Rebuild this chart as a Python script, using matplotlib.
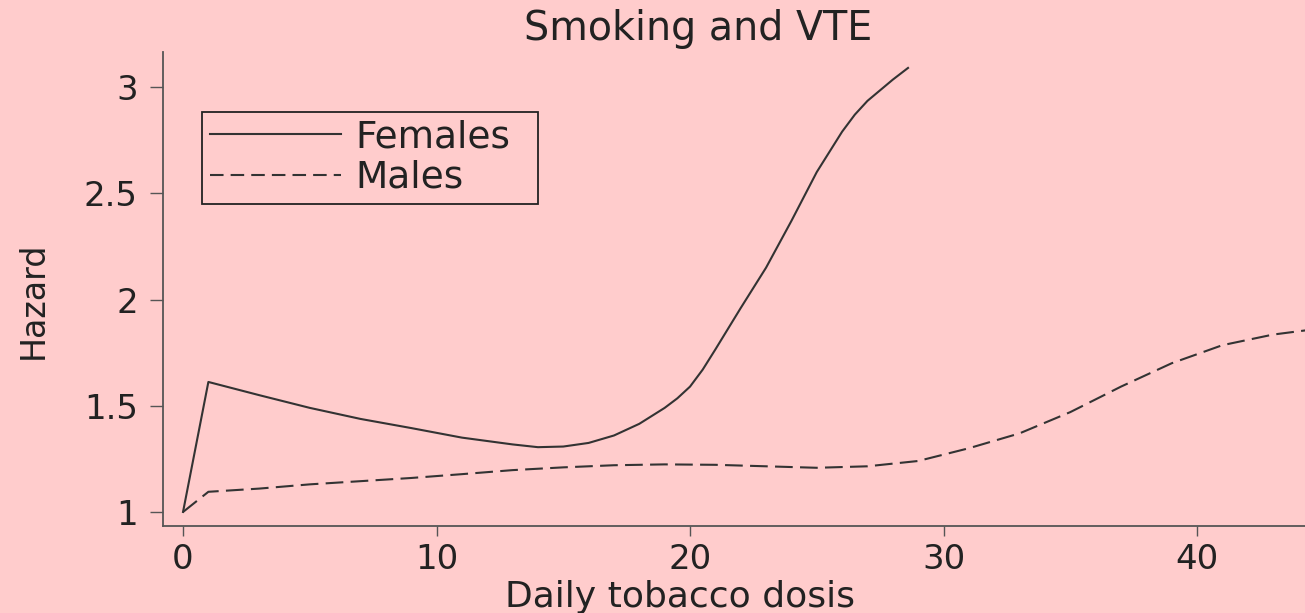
import matplotlib
matplotlib.use("Agg")
import matplotlib.pyplot as plt
from matplotlib.lines import Line2D

# ---- data ----
female_x = [0, 1, 3, 5, 7, 9, 11, 13, 14, 15, 16, 17, 18, 19, 19.5, 20, 20.5, 21, 22, 23, 24, 25, 26,
            26.5, 27, 28, 28.6]
female_y = [1.0, 1.612, 1.55, 1.49, 1.438, 1.395, 1.35, 1.318, 1.305, 1.308, 1.325, 1.36, 1.415,
            1.49, 1.535, 1.59, 1.67, 1.765, 1.96, 2.15, 2.37, 2.60, 2.79, 2.87, 2.935, 3.035, 3.09]

male_x = [0, 1, 3, 5, 7, 9, 11, 13, 15, 17, 19, 21, 23, 25, 27, 29, 31, 33, 35, 37, 39, 41, 43, 44.3]
male_y = [1.0, 1.095, 1.11, 1.13, 1.145, 1.16, 1.178, 1.197, 1.21, 1.22, 1.224, 1.222, 1.215,
          1.208, 1.215, 1.24, 1.30, 1.37, 1.47, 1.59, 1.70, 1.785, 1.835, 1.855]

x_ticks = [0, 10, 20, 30, 40]
y_ticks = [1, 1.5, 2, 2.5, 3]
y_ticklabels = ["1", "1.5", "2", "2.5", "3"]
series_labels = ["Females", "Males"]
title = "Smoking and VTE"
x_label = "Daily tobacco dosis"
y_label = "Hazard"

# ---- style ----
BG = "#FFCCCC"
LINE = "#333333"
SPINE = "#555555"
TXT = "#222222"
plt.rcParams["font.family"] = ["DejaVu Sans"]

W, H = 1305, 613
fig = plt.figure(figsize=(W / 100, H / 100), dpi=100, facecolor=BG)
ax = fig.add_axes([163 / W, 1 - 526 / H, (W - 163) / W, (526 - 52) / H])
ax.set_facecolor(BG)

ax.plot(female_x, female_y, color=LINE, lw=1.5, solid_joinstyle="round")
ax.plot(male_x, male_y, color=LINE, lw=1.5, dashes=(8.5, 3.5))

ax.set_xlim(-0.79, 44.26)
ax.set_ylim(0.934, 3.165)

for s in ["top", "right"]:
    ax.spines[s].set_visible(False)
for s in ["left", "bottom"]:
    ax.spines[s].set_color(SPINE)
    ax.spines[s].set_linewidth(1.3)

ax.set_xticks(x_ticks)
ax.set_xticklabels([str(t) for t in x_ticks])
ax.set_yticks(y_ticks)
ax.set_yticklabels(y_ticklabels)
ax.tick_params(axis="x", length=7.2, width=1.0, color=SPINE, pad=5.0, labelsize=24.5, labelcolor=TXT)
ax.tick_params(axis="y", length=9.4, width=1.0, color=SPINE, pad=8.6, labelsize=24.5, labelcolor=TXT)

# legend with proxy handles
h_f = Line2D([], [], color=LINE, lw=1.5)
h_m = Line2D([], [], color=LINE, lw=1.5, dashes=(6.5, 3.4))
leg = fig.legend([h_f, h_m], series_labels, loc="upper left",
                 bbox_to_anchor=(202 / W, 1 - 200 / H, (538 - 202) / W, (200 - 112) / H),
                 bbox_transform=fig.transFigure, mode="expand", borderaxespad=0,
                 fontsize=27, handlelength=3.5, handletextpad=0.4, labelspacing=0.12,
                 borderpad=0.2, fancybox=False, framealpha=1.0, facecolor=BG,
                 edgecolor=TXT)
leg.get_frame().set_linewidth(1.3)
for t in leg.get_texts():
    t.set_color(TXT)

fig.text(698 / W, 1 - 40 / H, title, ha="center", va="baseline", fontsize=28.5, color=TXT)
fig.text(680 / W, 1 - 607 / H, x_label, ha="center", va="baseline", fontsize=26, color=TXT)
fig.text(33 / W, 1 - 300 / H, y_label, ha="center", va="center", rotation=90, fontsize=24, color=TXT)

fig.savefig("out.png", dpi=100, facecolor=BG)
